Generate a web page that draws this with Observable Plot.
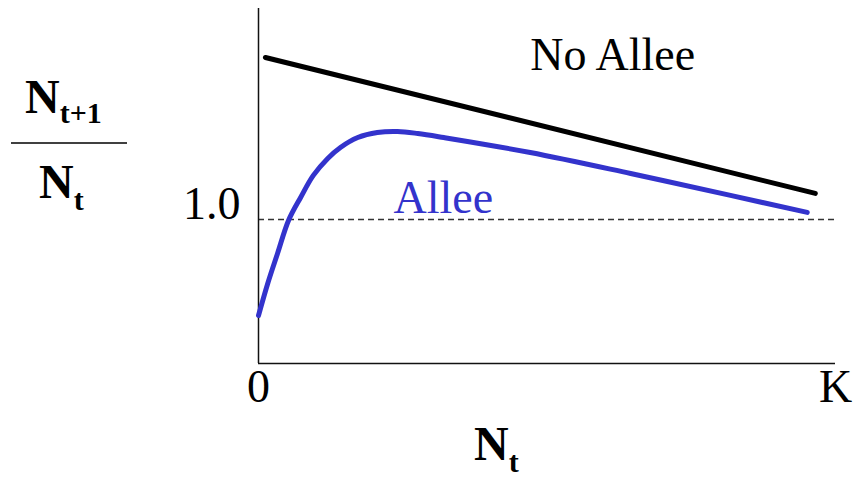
<!DOCTYPE html>
<html>
<head>
<meta charset="utf-8">
<script src="https://cdn.jsdelivr.net/npm/d3@7"></script>
<script src="https://cdn.jsdelivr.net/npm/@observablehq/plot@0.6"></script>
<style>
  html, body { margin: 0; padding: 0; background: #fff; }
  #chart { width: 856px; height: 477px; }
</style>
</head>
<body>
<div id="chart"></div>
<script>
// Data (x as fraction of K, y as N_{t+1}/N_t)
const alleeX = [0, 0.016, 0.033, 0.052, 0.073, 0.095, 0.120, 0.142, 0.172, 0.206, 0.241, 0.276, 0.321, 0.471, 0.645, 0.818, 0.951];
const alleeY = [0.333, 0.556, 0.764, 0.993, 1.153, 1.306, 1.424, 1.5, 1.569, 1.604, 1.611, 1.597, 1.569, 1.465, 1.319, 1.167, 1.049];
const noAlleeX = [0.012, 0.965];
const noAlleeY = [2.125, 1.181];
const xTickValues = [0, 1];
const xTickLabels = ["0", "K"];
const yTickValues = [1];
const yTickLabels = ["1.0"];
const seriesLabels = ["No Allee", "Allee"];

const allee = alleeX.map((x, i) => ({x, y: alleeY[i]}));
const noAllee = noAlleeX.map((x, i) => ({x, y: noAlleeY[i]}));
const xTicks = xTickValues.map((v, i) => ({v, label: xTickLabels[i]}));
const yTicks = yTickValues.map((v, i) => ({v, label: yTickLabels[i]}));

const BLUE = "#3333cc";
const FONT = "'Liberation Serif', 'Times New Roman', serif";

const plot = Plot.plot({
  width: 856,
  height: 477,
  marginLeft: 258,
  marginRight: 21,
  marginTop: 8,
  marginBottom: 114,
  x: {domain: [0, 1], axis: null},
  y: {domain: [0, 2.465], axis: null},
  style: {fontFamily: FONT, background: "#fff", color: "#000"},
  marks: [
    Plot.ruleY(yTicks, {y: "v", x1: 0, x2: 1, stroke: "#333", strokeWidth: 1.3, strokeDasharray: "6,4"}),
    Plot.ruleX([0], {y1: 0, y2: 2.465, stroke: "#111", strokeWidth: 1.5}),
    Plot.ruleY([0], {x1: 0, x2: 1, stroke: "#111", strokeWidth: 1.5}),
    Plot.line(noAllee, {x: "x", y: "y", stroke: "#000", strokeWidth: 5}),
    Plot.line(allee, {x: "x", y: "y", stroke: BLUE, strokeWidth: 5, curve: "catmull-rom"}),
    Plot.text(yTicks, {x: 0, y: "v", text: "label", textAnchor: "end", lineAnchor: "bottom", dx: -18, dy: 0, fontSize: 46, fontFamily: FONT, fill: "#000"}),
    Plot.text(xTicks, {x: "v", y: 0, text: "label", textAnchor: "middle", lineAnchor: "bottom", dy: 38, fontSize: 46, fontFamily: FONT, fill: "#000"}),
    Plot.text([seriesLabels[0]], {x: 0.471, y: 2.035, text: d => d, textAnchor: "start", lineAnchor: "bottom", fontSize: 46, fontFamily: FONT, fill: "#000"}),
    Plot.text([seriesLabels[1]], {x: 0.234, y: 1.042, text: d => d, textAnchor: "start", lineAnchor: "bottom", fontSize: 46, fontFamily: FONT, fill: BLUE})
  ]
});

document.getElementById("chart").appendChild(plot);

// Axis labels with subscripts
const svg = d3.select(plot);
const g = svg.append("g")
  .attr("font-family", FONT)
  .attr("font-weight", "bold")
  .attr("text-anchor", "start")
  .attr("fill", "#000");

const num = g.append("text").attr("x", 25).attr("y", 113).attr("font-size", 48);
num.append("tspan").text("N");
num.append("tspan").attr("dy", 10).attr("font-size", 30).text("t+1");

g.append("line").attr("x1", 11).attr("x2", 127).attr("y1", 143).attr("y2", 143)
  .attr("stroke", "#000").attr("stroke-width", 1.6);

const den = g.append("text").attr("x", 39).attr("y", 198).attr("font-size", 48);
den.append("tspan").text("N");
den.append("tspan").attr("dy", 12).attr("font-size", 30).text("t");

const xl = g.append("text").attr("x", 474).attr("y", 460).attr("font-size", 48);
xl.append("tspan").text("N");
xl.append("tspan").attr("dy", 12).attr("font-size", 30).text("t");
</script>
</body>
</html>
